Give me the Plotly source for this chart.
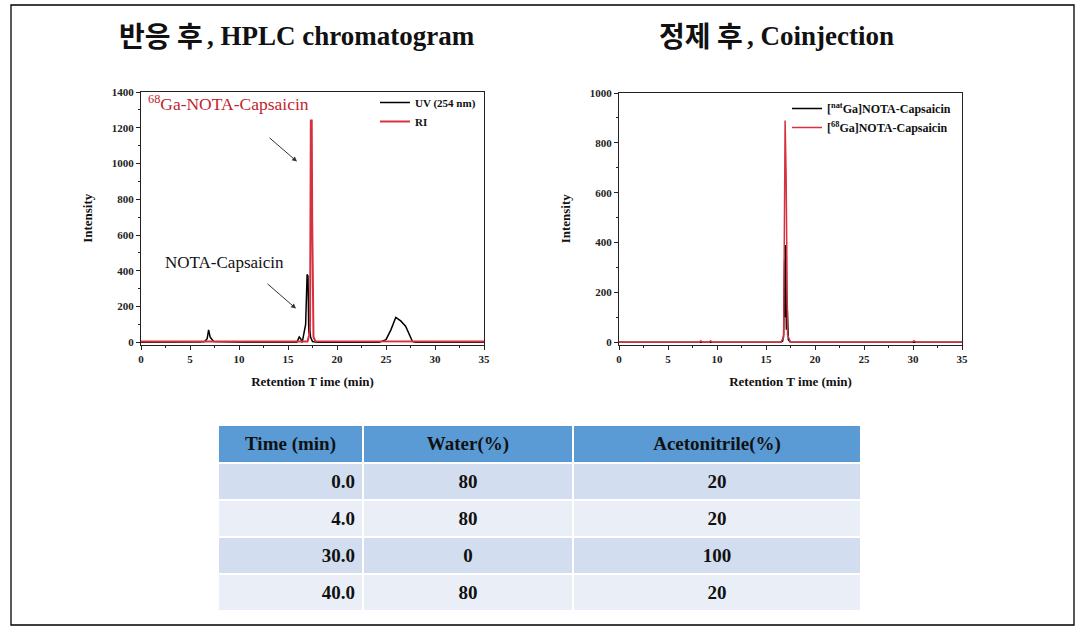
import plotly.graph_objects as go

# ---------------- data ----------------
# Left chart: reaction mixture HPLC
uv_time = [0, 4.5, 4.6, 6.0, 6.5, 6.75, 6.9, 7.05, 7.4, 8.5, 9.0, 10.5, 11.0, 15.9, 16.15, 16.3, 16.45,
           16.8, 16.95, 17.04, 17.12, 17.2, 17.3, 17.5, 18.0, 24.3, 25.0, 25.5, 26.0, 26.5, 27.0, 27.7, 28.0, 35]
uv_val = [0, 0, -2, 2, 5, 20, 70, 30, 5, 2, 3, 0, 0, 0, 30, 20, 0,
          100, 380, 370, 50, 100, 30, 5, 0, 0, 15, 70, 140, 120, 90, 5, 0, 0]
ri_time = [0, 8.4, 8.6, 9.0, 9.2, 17.0, 17.15, 17.25, 17.33, 17.42, 17.47, 17.52, 17.6, 17.8, 35]
ri_val = [5, 5, 8, 8, 5, 5, 40, 90, 1240, 1240, 680, 300, 30, 6, 5]

# Right chart: coinjection
nat_time = [0, 16.5, 16.7, 16.8, 16.9, 16.95, 17.0, 17.08, 17.18, 17.28, 17.5, 35]
nat_val = [0, 0, 5, 30, 330, 100, 390, 50, 130, 10, 0, 0]
ga_time = [0, 8.2, 8.35, 8.5, 9.2, 9.35, 9.5, 16.5, 16.8, 16.95, 17.05, 17.12, 17.2, 17.5, 29.9, 30.1, 30.3, 35]
ga_val = [0, 0, 6, 0, 0, 6, 0, 0, 20, 890, 680, 200, 30, 0, 0, 6, 0, 0]

# Gradient table
tbl_header = ["Time (min)", "Water(%)", "Acetonitrile(%)"]
tbl_time = ["0.0", "4.0", "30.0", "40.0"]
tbl_water = ["80", "80", "0", "80"]
tbl_acn = ["20", "20", "100", "20"]

W, H = 1082, 628
def px(x): return x / W
def py(y): return 1 - y / H

SERIF = "Liberation Serif"
KR = "Noto Sans CJK KR"
RED = "#D7303F"
fig = go.Figure()

fig.add_trace(go.Scatter(x=uv_time, y=uv_val, mode="lines", name="UV (254 nm)",
                         line=dict(color="black", width=1.5), xaxis="x", yaxis="y", legend="legend"))
fig.add_trace(go.Scatter(x=ri_time, y=ri_val, mode="lines", name="RI",
                         line=dict(color=RED, width=2), xaxis="x", yaxis="y", legend="legend"))
fig.add_trace(go.Scatter(x=nat_time, y=nat_val, mode="lines", name="[<sup>nat</sup>Ga]NOTA-Capsaicin",
                         line=dict(color="black", width=1.5), xaxis="x2", yaxis="y2", legend="legend2"))
fig.add_trace(go.Scatter(x=ga_time, y=ga_val, mode="lines", name="[<sup>68</sup>Ga]NOTA-Capsaicin",
                         line=dict(color=RED, width=1.5), xaxis="x2", yaxis="y2", legend="legend2"))

fig.add_trace(go.Table(
    domain=dict(x=[px(218), px(861)], y=[py(610), py(425)]),
    columnwidth=[145, 210, 288],
    header=dict(values=[f"<b>{h}</b>" for h in tbl_header],
                fill_color="#5B9BD5", line=dict(color="white", width=2),
                align="center", height=35,
                font=dict(family=SERIF, size=19, color="#111")),
    cells=dict(values=[[f"<b>{v}</b>" for v in tbl_time],
                       [f"<b>{v}</b>" for v in tbl_water],
                       [f"<b>{v}</b>" for v in tbl_acn]],
               fill_color=[["#D2DEEF", "#EAEFF7", "#D2DEEF", "#EAEFF7"]] * 3,
               line=dict(color="white", width=2),
               align=["right", "center", "center"], height=36.5,
               font=dict(family=SERIF, size=19, color="#111")),
))

tickfont = dict(family=SERIF, size=11, color="#222", weight="bold")
titlefont = dict(family=SERIF, size=13, color="#111", weight="bold")
common_x = dict(range=[0, 35], tickvals=[0, 5, 10, 15, 20, 25, 30, 35], ticks="outside", ticklen=4,
                showline=True, linecolor="#222", linewidth=1, mirror=True, showgrid=False, zeroline=False,
                tickfont=tickfont, minor=dict(ticks="outside", ticklen=2, dtick=2.5, tickcolor="#222"),
                tickcolor="#222", automargin=False)
common_y = dict(ticks="outside", ticklen=4, showline=True, linecolor="#222", linewidth=1, mirror=True,
                showgrid=False, zeroline=False, tickfont=tickfont, tickcolor="#222", automargin=False)

fig.update_layout(
    width=W, height=H, autosize=False,
    margin=dict(l=0, r=0, t=0, b=0, pad=0, autoexpand=False),
    paper_bgcolor="white", plot_bgcolor="white",
    xaxis=dict(domain=[px(141), px(484)], anchor="y",
               title=dict(text="Retention T ime (min)", font=titlefont, standoff=13), **common_x),
    yaxis=dict(domain=[py(344.5), py(92)], anchor="x", range=[-12, 1400], dtick=200,
               minor=dict(ticks="outside", ticklen=2, dtick=100, tickcolor="#222"),
               title=dict(text="Intensity", font=titlefont, standoff=16), **common_y),
    xaxis2=dict(domain=[px(619), px(962)], anchor="y2",
                title=dict(text="Retention T ime (min)", font=titlefont, standoff=13), **common_x),
    yaxis2=dict(domain=[py(344.5), py(93)], anchor="x2", range=[-9, 1000], dtick=200,
                minor=dict(ticks="outside", ticklen=2, dtick=100, tickcolor="#222"),
                title=dict(text="Intensity", font=titlefont, standoff=16), **common_y),
    legend=dict(x=px(375), y=py(88), xanchor="left", yanchor="top", bgcolor="rgba(0,0,0,0)",
                font=dict(family=SERIF, size=11, color="#111", weight="bold"), tracegroupgap=0, itemwidth=30),
    legend2=dict(x=px(787), y=py(94), xanchor="left", yanchor="top", bgcolor="rgba(0,0,0,0)",
                 font=dict(family=SERIF, size=12, color="#111", weight="bold"), tracegroupgap=0, itemwidth=30),
    showlegend=True,
)

# titles: Korean part (sans) + English part (serif)
def add_title(xsplit, kr, en):
    fig.add_annotation(x=px(xsplit), y=py(35), xref="paper", yref="paper", showarrow=False,
                       xanchor="right", yanchor="middle", text=kr,
                       font=dict(family=KR, size=28, color="#111", weight="bold"))
    fig.add_annotation(x=px(xsplit), y=py(36), xref="paper", yref="paper", showarrow=False,
                       xanchor="left", yanchor="middle", text=f"<b>{en}</b>",
                       font=dict(family=SERIF, size=27, color="#111"))

add_title(205, "반응 후", ", HPLC chromatogram")
add_title(745, "정제 후", ", Coinjection")

# peak labels with arrows
fig.add_annotation(x=px(146), y=py(103), xref="paper", yref="paper", showarrow=False,
                   xanchor="left", yanchor="middle",
                   text="<sup>68</sup>Ga-NOTA-Capsaicin", font=dict(family=SERIF, size=17.5, color="#C0262E"))
fig.add_annotation(x=px(163), y=py(262), xref="paper", yref="paper", showarrow=False,
                   xanchor="left", yanchor="middle",
                   text="NOTA-Capsaicin", font=dict(family=SERIF, size=17, color="#111"))
fig.add_annotation(x=15.92, y=1011, xref="x", yref="y", ax=-29, ay=-25, showarrow=True, text="",
                   arrowhead=2, arrowsize=1, arrowwidth=1, arrowcolor="#333")
fig.add_annotation(x=15.82, y=189, xref="x", yref="y", ax=-30, ay=-26, showarrow=True, text="",
                   arrowhead=2, arrowsize=1, arrowwidth=1, arrowcolor="#333")

# outer frame
fig.add_shape(type="rect", xref="paper", yref="paper", x0=px(11), x1=px(1074), y0=py(625), y1=py(5),
              line=dict(color="black", width=1.3), layer="below")

fig.write_html("out.html")
